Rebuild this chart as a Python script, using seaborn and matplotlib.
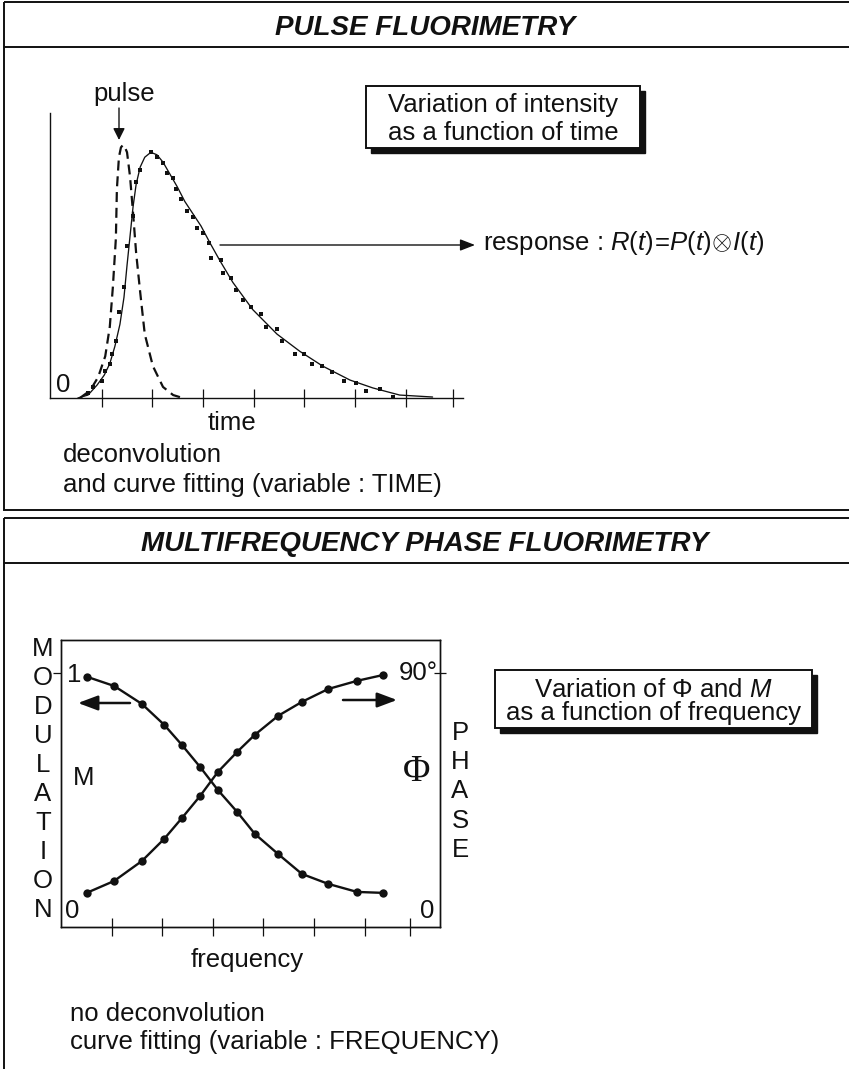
import matplotlib
matplotlib.use("Agg")
import matplotlib.pyplot as plt
import seaborn as sns
from matplotlib.patches import Rectangle, FancyArrowPatch

# ---------------- Pulse fluorimetry: intensity versus time ----------------
# excitation pulse (dashed)
pulse_t = [0.57, 0.77, 0.93, 1.07, 1.16, 1.22, 1.28, 1.30, 1.34, 1.38, 1.42,
           1.46, 1.50, 1.56, 1.62, 1.68, 1.76, 1.85, 2.01, 2.21, 2.41, 2.60]
pulse_i = [0.00, 0.03, 0.085, 0.17, 0.29, 0.45, 0.65, 0.85, 0.98, 1.02, 1.03,
           1.02, 1.00, 0.90, 0.75, 0.59, 0.43, 0.26, 0.13, 0.045, 0.012, 0.0]

# fitted response curve (solid)
fit_t = [0.53, 0.73, 0.91, 1.05, 1.16, 1.26, 1.36, 1.44, 1.50, 1.56, 1.62,
         1.68, 1.76, 1.85, 1.97, 2.09, 2.21, 2.35, 2.49, 2.64, 2.80, 2.96,
         3.14, 3.33, 3.59, 3.98, 4.46, 4.91, 5.36, 5.90, 6.35, 6.88, 7.53]
fit_i = [0.0, 0.012, 0.053, 0.093, 0.14, 0.21, 0.30, 0.41, 0.54, 0.66, 0.78,
         0.87, 0.94, 0.98, 1.00, 0.99, 0.96, 0.91, 0.86, 0.80, 0.75, 0.70,
         0.63, 0.56, 0.47, 0.36, 0.26, 0.19, 0.13, 0.073, 0.041, 0.012, 0.004]

# measured decay (dots)
meas_t = [0.73, 0.83, 1.01, 1.07, 1.16, 1.20, 1.28, 1.34, 1.44, 1.50, 1.62,
          1.68, 1.76, 1.97, 2.09, 2.21, 2.29, 2.41, 2.47, 2.56, 2.68, 2.80,
          2.88, 3.00, 3.12, 3.16, 3.35, 3.39, 3.55, 3.65, 3.79, 3.94, 4.14,
          4.24, 4.46, 4.56, 4.81, 4.99, 5.15, 5.35, 5.54, 5.78, 6.02, 6.21,
          6.49, 6.75]
meas_i = [0.02, 0.045, 0.07, 0.11, 0.14, 0.18, 0.23, 0.35, 0.45, 0.62, 0.74,
          0.88, 0.93, 1.00, 0.98, 0.955, 0.915, 0.895, 0.85, 0.81, 0.76, 0.735,
          0.69, 0.67, 0.63, 0.57, 0.56, 0.51, 0.49, 0.44, 0.40, 0.37, 0.34,
          0.29, 0.28, 0.23, 0.18, 0.18, 0.14, 0.13, 0.105, 0.07, 0.06, 0.03,
          0.035, 0.005]

time_ticks = [1, 2, 3, 4, 5, 6, 7, 7.93]

# ---------------- Multifrequency phase fluorimetry ----------------
freq = [0.51, 1.05, 1.60, 2.04, 2.39, 2.75, 3.10, 3.48, 3.83, 4.29, 4.76,
        5.28, 5.85, 6.36]
modulation = [0.984, 0.945, 0.869, 0.781, 0.696, 0.603, 0.506, 0.414, 0.321,
              0.236, 0.152, 0.110, 0.076, 0.072]
phase_deg = [6.5, 11.0, 18.6, 27.0, 34.9, 43.3, 52.4, 60.0, 66.5, 73.7, 79.0,
             83.9, 87.0, 89.2]
freq_ticks = [1, 2, 3, 4, 5, 6, 6.9]

# ---------------- style ----------------
sns.set_theme(style="white")
plt.rcParams["font.family"] = ["Liberation Sans", "DejaVu Sans"]
plt.rcParams.update({
    "mathtext.fontset": "custom",
    "mathtext.rm": "Liberation Sans",
    "mathtext.it": "Liberation Sans:italic",
    "mathtext.bf": "Liberation Sans:bold",
})
INK = "#111111"
FS = 18.5

W, H = 849, 1069
fig = plt.figure(figsize=(W / 100, H / 100), dpi=100)
fig.patch.set_facecolor("white")

# page-level drawing layer in pixel coordinates (y downwards)
bg = fig.add_axes([0, 0, 1, 1], zorder=0)
bg.set_xlim(0, W)
bg.set_ylim(H, 0)
bg.axis("off")


def ax_rect(x0, y0, x1, y1):
    return [x0 / W, 1 - y1 / H, (x1 - x0) / W, (y1 - y0) / H]


def panel(y_top, y_sep, y_bot, title, y_title):
    bg.add_patch(Rectangle((4, y_top), W + 20, y_bot - y_top, fill=False,
                           lw=1.4, ec=INK))
    bg.plot([4, W + 10], [y_sep, y_sep], color=INK, lw=1.4)
    bg.text(425, y_title, title, ha="center", va="baseline", fontsize=20,
            fontweight="bold", fontstyle="italic", color=INK)


def shadow_box(x0, y0, x1, y1, lines, baselines):
    bg.add_patch(Rectangle((x0 + 5, y0 + 5), x1 - x0, y1 - y0, fc=INK,
                           ec=INK, lw=1))
    bg.add_patch(Rectangle((x0, y0), x1 - x0, y1 - y0, fc="white",
                           ec=INK, lw=1.4))
    for s, yb in zip(lines, baselines):
        bg.text((x0 + x1) / 2, yb, s, ha="center", va="baseline",
                fontsize=FS, color=INK)


def arrow(p0, p1, lw, head):
    bg.add_patch(FancyArrowPatch(p0, p1, arrowstyle=head, lw=lw,
                                 color=INK, shrinkA=0, shrinkB=0))


# ================= panel 1 =================
panel(2, 47, 510, "PULSE FLUORIMETRY", 35)
shadow_box(366, 86, 640, 148,
           ["Variation of intensity", "as a function of time"], [112, 140])

ax1 = fig.add_axes(ax_rect(50, 113, 463, 398), zorder=2)
ax1.patch.set_alpha(0)
sns.lineplot(x=fit_t, y=fit_i, ax=ax1, color=INK, lw=0.95, sort=False)
sns.lineplot(x=pulse_t, y=pulse_i, ax=ax1, color=INK, lw=1.6, sort=False,
             linestyle=(0, (4.5, 2.6)))
sns.scatterplot(x=meas_t, y=meas_i, ax=ax1, marker="s", s=7, color=INK,
                linewidth=0)
ax1.set_xlim(-0.02, 8.13)
ax1.set_ylim(0, 1.16)
ax1.set_xticks(time_ticks)
ax1.set_xticklabels([])
ax1.set_yticks([])
ax1.tick_params(axis="x", bottom=True, direction="inout", length=13,
                width=0.9, color=INK)
for side in ("top", "right"):
    ax1.spines[side].set_visible(False)
for side in ("left", "bottom"):
    ax1.spines[side].set_color(INK)
    ax1.spines[side].set_linewidth(1.0)
ax1.set_xlabel("")
ax1.set_ylabel("")

bg.text(124, 101, "pulse", ha="center", va="baseline", fontsize=FS, color=INK)
arrow((119, 108), (119, 140), 1.0, "-|>,head_length=7,head_width=3.5")
bg.text(56, 392, "0", ha="left", va="baseline", fontsize=FS, color=INK)
arrow((220, 245), (475, 245), 1.0, "-|>,head_length=9,head_width=3.5")
bg.text(483, 250, r"response : $R(t)\!=\!P(t)\!\otimes\! I(t)$",
        ha="left", va="baseline", fontsize=FS, color=INK)
bg.text(232, 430, "time", ha="center", va="baseline", fontsize=FS, color=INK)
bg.text(63, 462, "deconvolution", ha="left", va="baseline", fontsize=FS,
        color=INK)
bg.text(63, 492, "and curve fitting (variable : TIME)", ha="left",
        va="baseline", fontsize=FS, color=INK)

# ================= panel 2 =================
panel(518, 563, H + 20, "MULTIFREQUENCY PHASE FLUORIMETRY", 551)
shadow_box(495, 670, 812, 728,
           [r"Variation of $\Phi$ and $M$", "as a function of frequency"],
           [697, 720])

ax2 = fig.add_axes(ax_rect(61, 640, 440, 927), zorder=2)
ax2.patch.set_alpha(0)
sns.lineplot(x=freq, y=modulation, ax=ax2, color=INK, lw=1.7, marker="o",
             markersize=6, markeredgewidth=0, sort=False)
ax2.set_xlim(0, 7.49)
ax2.set_ylim(-0.072, 1.139)
ax2.set_xticks(freq_ticks)
ax2.set_xticklabels([])
ax2.set_yticks([1.0])
ax2.set_yticklabels([])
ax2.tick_params(axis="x", bottom=True, direction="inout", length=13,
                width=0.9, color=INK)
ax2.tick_params(axis="y", left=True, direction="out", length=6,
                width=0.9, color=INK)
ax2.set_xlabel("")
ax2.set_ylabel("")

ax3 = ax2.twinx()
ax3.patch.set_alpha(0)
sns.lineplot(x=freq, y=phase_deg, ax=ax3, color=INK, lw=1.7, marker="o",
             markersize=6, markeredgewidth=0, sort=False)
ax3.set_ylim(-0.072 * 90, 1.139 * 90)
ax3.set_yticks([90])
ax3.set_yticklabels([])
ax3.tick_params(axis="y", right=True, direction="inout", length=8,
                width=0.9, color=INK)
ax3.set_xlabel("")
ax3.set_ylabel("")
for a in (ax2, ax3):
    for side in a.spines:
        a.spines[side].set_color(INK)
        a.spines[side].set_linewidth(1.0)
        a.spines[side].set_visible(True)

bg.text(67, 682, "1", ha="left", va="baseline", fontsize=FS, color=INK)
bg.text(65, 918, "0", ha="left", va="baseline", fontsize=FS, color=INK)
bg.text(438, 680, "90°", ha="right", va="baseline", fontsize=FS, color=INK)
bg.text(434, 918, "0", ha="right", va="baseline", fontsize=FS, color=INK)
bg.text(73, 785, "M", ha="left", va="baseline", fontsize=FS, color=INK)
bg.text(417, 772, "Φ", ha="center", va="center", fontsize=27,
        family="Liberation Serif", color=INK)

for i, ch in enumerate("MODULATION"):
    bg.text(43, 649 + 29 * i, ch, ha="center", va="center", fontsize=FS,
            color=INK)
for i, ch in enumerate("PHASE"):
    bg.text(460, 733 + 29.2 * i, ch, ha="center", va="center", fontsize=FS,
            color=INK)

arrow((130, 703), (78, 703), 1.8, "-|>,head_length=12,head_width=4.5")
arrow((343, 700), (397, 700), 1.8, "-|>,head_length=12,head_width=4.5")

bg.text(247, 967, "frequency", ha="center", va="baseline", fontsize=FS,
        color=INK)
bg.text(70, 1021, "no deconvolution", ha="left", va="baseline", fontsize=FS,
        color=INK)
bg.text(70, 1049, "curve fitting (variable : FREQUENCY)", ha="left",
        va="baseline", fontsize=FS, color=INK)

fig.savefig("out.png", dpi=100, facecolor="white")
